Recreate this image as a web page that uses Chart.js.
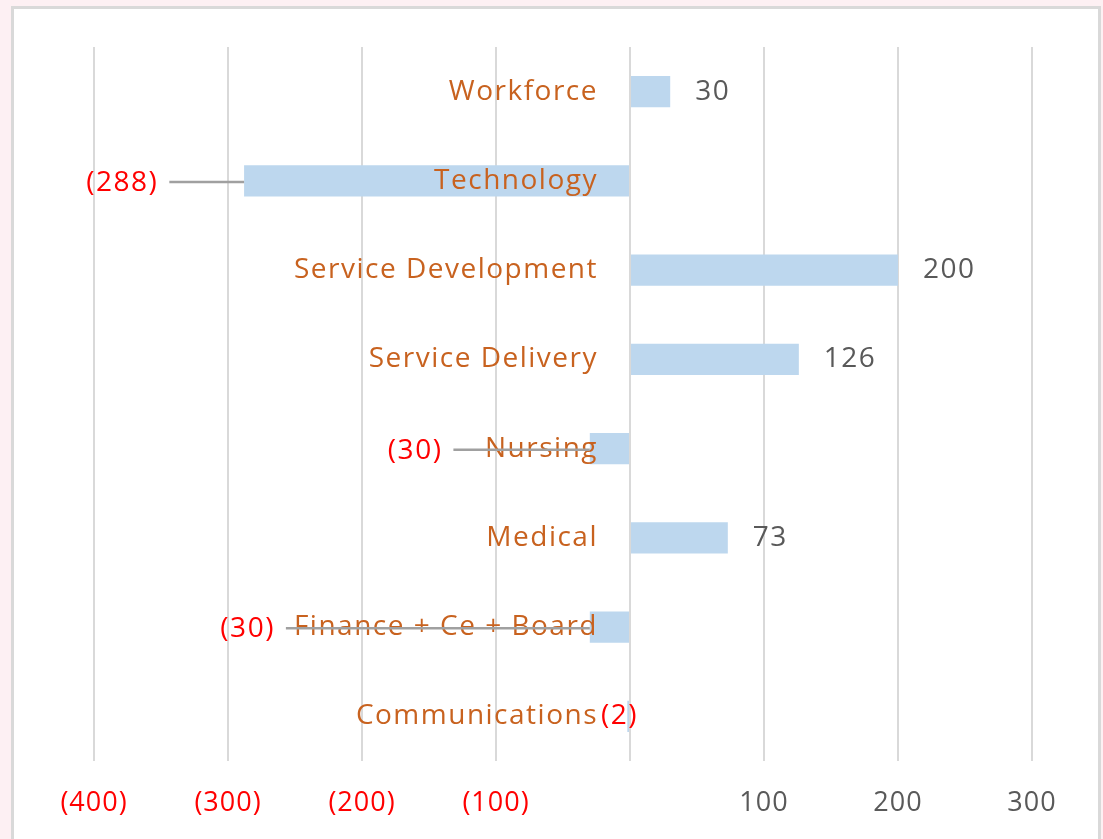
<!DOCTYPE html>
<html>
<head>
<meta charset="utf-8">
<script src="https://cdn.jsdelivr.net/npm/chart.js@4.4.1/dist/chart.umd.min.js"></script>
<style>
  html, body { margin: 0; padding: 0; background: #fdf0f3; }
  canvas { display: block; }
</style>
</head>
<body>
<canvas id="deptChart" width="1103" height="839"></canvas>
<script>
// values
const categories = ['Workforce', 'Technology', 'Service Development', 'Service Delivery',
                    'Nursing', 'Medical', 'Finance + Ce + Board', 'Communications'];
const values = [30, -288, 200, 126, -30, 73, -30, -2];
const tickValues = [-400, -300, -200, -100, 0, 100, 200, 300];
// where the callout label of a negative bar ends (in axis units), null = next to the bar
const calloutAt = [null, -352, null, null, -140, null, -265, null];

const FONT = '"Open Sans", "DejaVu Sans", sans-serif';
const catColor = '#c8621f';
const posColor = '#595959';
const negColor = '#ff0000';

function fmt(v) {
    if (v === 0) return '';
    return v < 0 ? '(' + Math.abs(v) + ')' : String(v);
}

const framePlugin = {
    id: 'frame',
    beforeDraw(chart) {
        const ctx = chart.ctx;
        ctx.save();
        ctx.fillStyle = '#fdf0f3';
        ctx.fillRect(0, 0, chart.width, chart.height);
        ctx.fillStyle = '#ffffff';
        ctx.fillRect(12, 7, 1088, 840);
        ctx.strokeStyle = '#d9d9d9';
        ctx.lineWidth = 3;
        ctx.strokeRect(12.5, 7.5, 1087, 840);
        ctx.restore();
        // a little tracking, the original font is wider
        ctx.letterSpacing = '1px';
    }
};

const labelPlugin = {
    id: 'labels',
    afterDatasetsDraw(chart) {
        const ctx = chart.ctx;
        const xs = chart.scales.x;
        const meta = chart.getDatasetMeta(0);
        const zeroX = xs.getPixelForValue(0);
        ctx.save();
        ctx.font = '28px ' + FONT;
        ctx.letterSpacing = '1.5px';
        ctx.textBaseline = 'middle';
        categories.forEach((name, i) => {
            const bar = meta.data[i];
            const y = bar.y;
            // category name next to the zero line
            ctx.fillStyle = catColor;
            ctx.textAlign = 'right';
            const right = zeroX - 32;
            ctx.fillText(name, right, y);
            const v = values[i];
            if (v >= 0) {
                ctx.fillStyle = posColor;
                ctx.textAlign = 'left';
                ctx.fillText(fmt(v), bar.x + 25, y);
            } else if (calloutAt[i] === null) {
                ctx.fillStyle = negColor;
                ctx.textAlign = 'left';
                ctx.fillText(fmt(v), right + 3, y);
            } else {
                const lx = xs.getPixelForValue(calloutAt[i]);
                ctx.strokeStyle = '#a0a0a0';
                ctx.lineWidth = 2.5;
                ctx.beginPath();
                ctx.moveTo(lx + 11, y + 1);
                ctx.lineTo(bar.x, y + 1);
                ctx.stroke();
                ctx.fillStyle = negColor;
                ctx.textAlign = 'right';
                ctx.fillText(fmt(v), lx, y + 2);
            }
        });
        ctx.restore();
    }
};

var chart = new Chart(document.getElementById('deptChart'), {
    type: 'bar',
    data: {
        labels: categories,
        datasets: [{
            data: values,
            backgroundColor: '#bdd7ee',
            borderWidth: 0,
            barPercentage: 0.35,
            categoryPercentage: 1
        }]
    },
    options: {
        indexAxis: 'y',
        responsive: false,
        animation: false,
        devicePixelRatio: 1,
        layout: { padding: { left: 94, right: 71, top: 47, bottom: 0 } },
        plugins: {
            legend: { display: false },
            tooltip: { enabled: false }
        },
        scales: {
            y: { display: false },
            x: {
                type: 'linear',
                min: -400,
                max: 300,
                afterBuildTicks: axis => {
                    axis.ticks = tickValues.map(v => ({ value: v }));
                },
                afterFit: axis => { axis.height = 78; },
                border: { display: false },
                grid: { color: '#d9d9d9', lineWidth: 2, drawTicks: false },
                ticks: {
                    padding: 26,
                    maxRotation: 0,
                    autoSkip: false,
                    font: { family: FONT, size: 27 },
                    color: c => (c.tick && c.tick.value < 0) ? negColor : posColor,
                    callback: v => fmt(v)
                }
            }
        }
    },
    plugins: [framePlugin, labelPlugin]
});
</script>
</body>
</html>
